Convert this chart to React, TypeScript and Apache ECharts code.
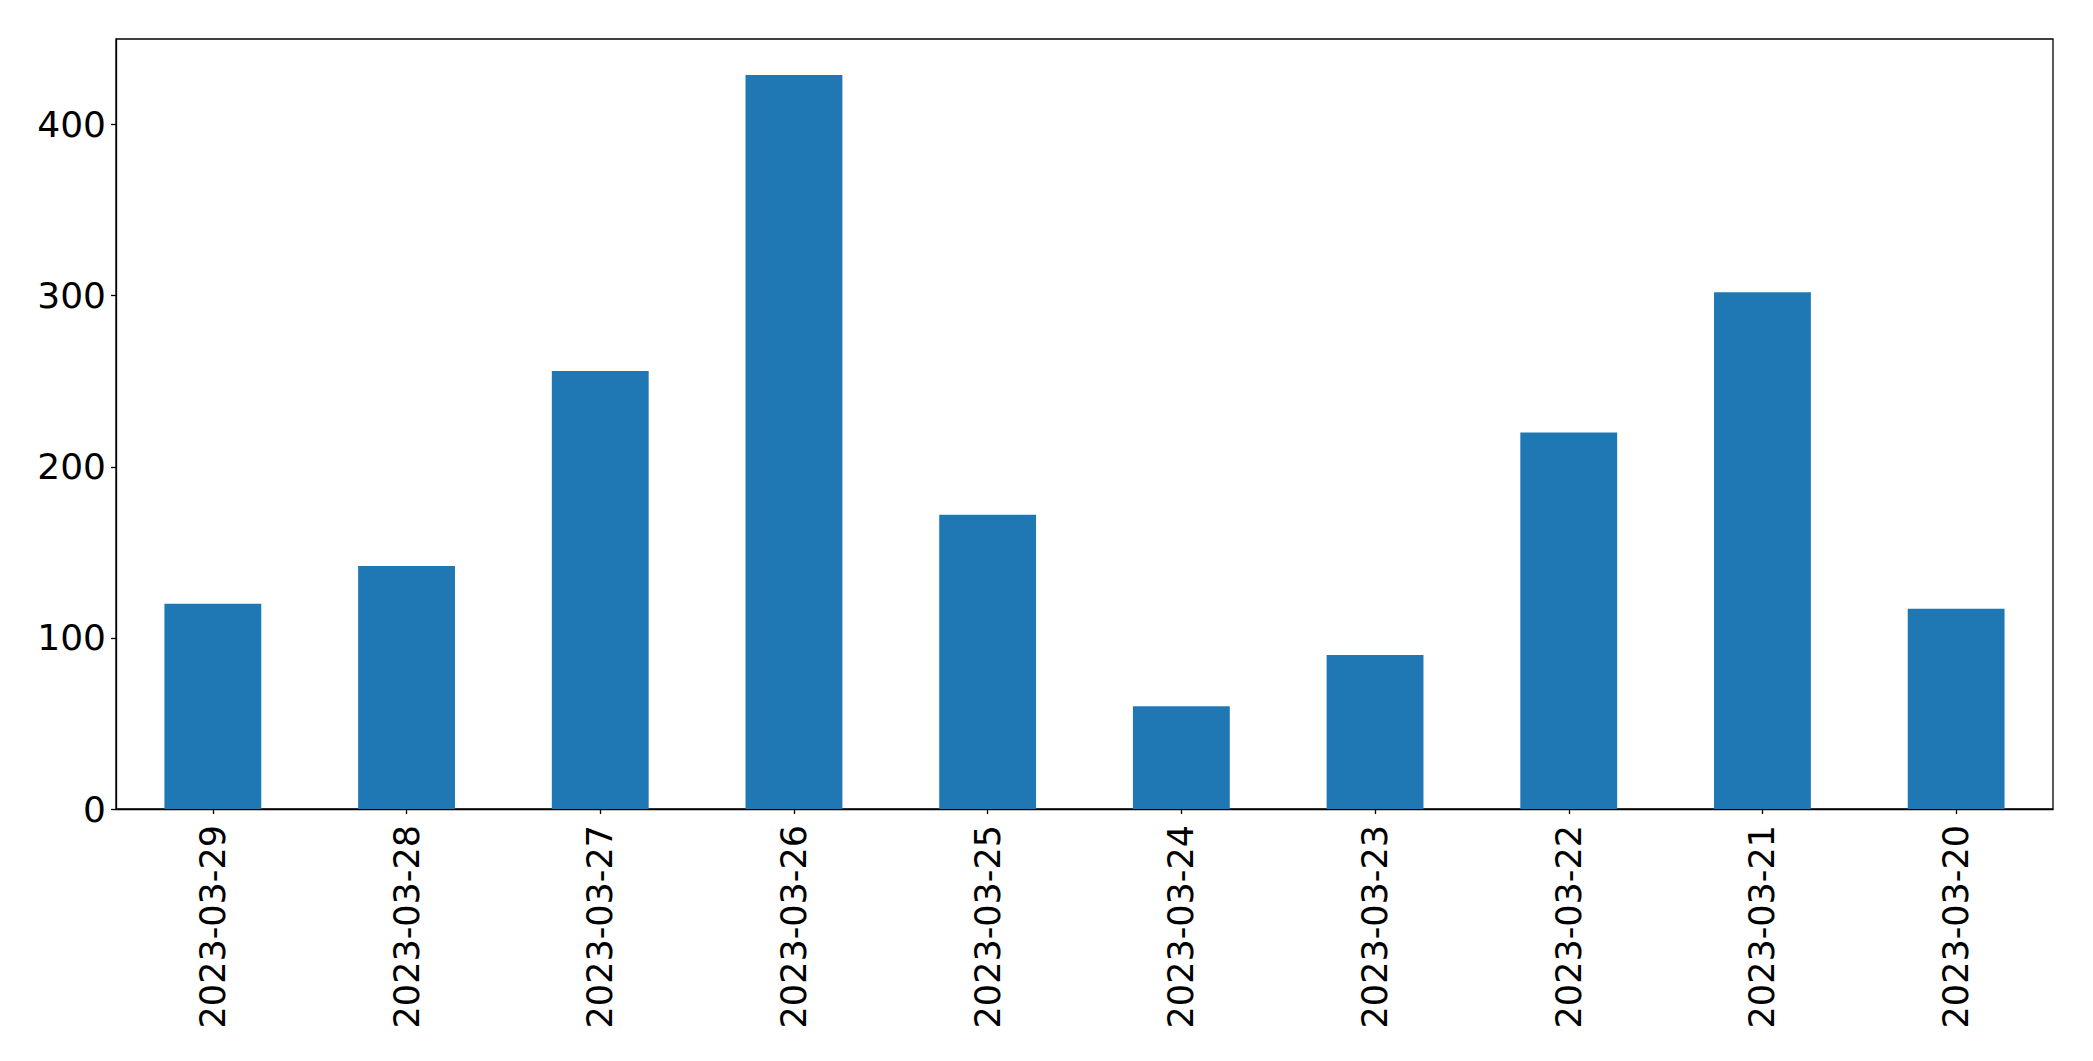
import React, { useEffect, useRef } from "react";
import * as echarts from "echarts";

const categories = [
  "2023-03-29",
  "2023-03-28",
  "2023-03-27",
  "2023-03-26",
  "2023-03-25",
  "2023-03-24",
  "2023-03-23",
  "2023-03-22",
  "2023-03-21",
  "2023-03-20",
];
const values = [120, 142, 256, 429, 172, 60, 90, 220, 302, 117];
const yTicks = [0, 100, 200, 300, 400];
const yMax = 450;

export default function App() {
  const ref = useRef<HTMLDivElement>(null);
  useEffect(() => {
    if (!ref.current) return;
    const chart = echarts.init(ref.current, null, { renderer: "svg" });
    const font = "DejaVu Sans";
    chart.setOption({
      animation: false,
      backgroundColor: "#ffffff",
      grid: {
        left: 116,
        right: 40,
        top: 39,
        bottom: 252,
        show: true,
        borderColor: "#000000",
        borderWidth: 1.3,
        backgroundColor: "transparent",
      },
      xAxis: {
        type: "category",
        data: categories,
        boundaryGap: true,
        axisLine: { show: true, lineStyle: { color: "#000000", width: 1.3 } },
        axisTick: {
          show: true,
          alignWithLabel: true,
          length: 5,
          lineStyle: { color: "#000000", width: 1.3 },
        },
        axisLabel: {
          rotate: 90,
          margin: 16,
          color: "#000000",
          fontSize: 35,
          fontFamily: font,
        },
        splitLine: { show: false },
      },
      yAxis: {
        type: "value",
        min: 0,
        max: yMax,
        axisLine: { show: true, lineStyle: { color: "#000000", width: 1.3 } },
        axisTick: {
          show: true,
          length: 5,
          customValues: yTicks,
          lineStyle: { color: "#000000", width: 1.3 },
        },
        axisLabel: {
          margin: 10,
          color: "#000000",
          fontSize: 36,
          fontFamily: font,
          customValues: yTicks,
        },
        splitLine: { show: false },
      },
      series: [
        {
          type: "bar",
          data: values,
          barWidth: "50%",
          itemStyle: { color: "#1f77b4" },
        },
      ],
    });
    return () => chart.dispose();
  }, []);
  return (
    <div
      ref={ref}
      style={{ position: "fixed", left: 0, top: 0, width: 2093, height: 1061, background: "#fff" }}
    />
  );
}
